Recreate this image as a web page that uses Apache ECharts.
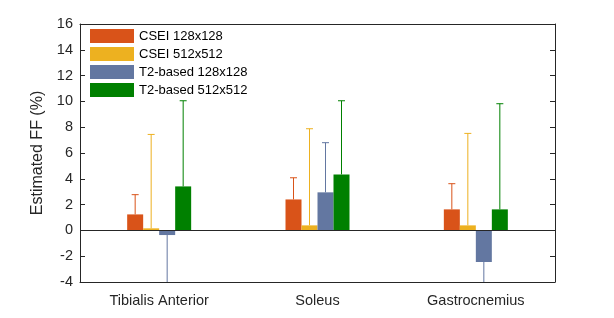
<!DOCTYPE html>
<html>
<head>
<meta charset="utf-8">
<script src="https://cdn.jsdelivr.net/npm/echarts@6/dist/echarts.min.js"></script>
<style>
html, body { margin: 0; padding: 0; background: #fff; }
#chart { width: 614px; height: 318px; }
</style>
</head>
<body>
<div id="chart"></div>
<script>
// data
const categories = ['Tibialis Anterior', 'Soleus', 'Gastrocnemius'];
const seriesNames = ['CSEI 128x128', 'CSEI 512x512', 'T2-based 128x128', 'T2-based 512x512'];
const cseiLow = [1.24, 2.40, 1.63];
const cseiHigh = [0.16, 0.39, 0.39];
const t2Low = [-0.36, 2.95, -2.45];
const t2High = [3.41, 4.34, 1.63];
// one-sided error (SD) per series, drawn away from zero
const cseiLowErr = [1.53, 1.68, 1.99];
const cseiHighErr = [7.28, 7.49, 7.13];
const t2LowErr = [4.5, 3.85, 2.5];
const t2HighErr = [6.64, 5.71, 8.19];
const yTicks = [-4, 16, 2];

const colors = ['#D95319', '#EDB120', '#6377A1', '#008000'];
const values = [cseiLow, cseiHigh, t2Low, t2High];
const errors = [cseiLowErr, cseiHighErr, t2LowErr, t2HighErr];
const barW = 16;
const axisColor = '#262626';

const chart = echarts.init(document.getElementById('chart'));

const barSeries = values.map((v, i) => ({
  name: seriesNames[i],
  type: 'bar',
  data: v,
  barWidth: barW,
  barGap: '0%',
  itemStyle: { color: colors[i] },
  z: 2,
  markLine: i === 0 ? {
    silent: true,
    symbol: 'none',
    label: { show: false },
    lineStyle: { color: axisColor, width: 1, type: 'solid' },
    data: [{ yAxis: 0 }]
  } : undefined
}));

const errSeries = values.map((v, i) => ({
  type: 'custom',
  name: 'err' + i,
  clip: true,
  z: 3,
  data: v.map((val, j) => [j, val, errors[i][j]]),
  renderItem: function (params, api) {
    const j = api.value(0);
    const val = api.value(1);
    const e = api.value(2);
    const end = val >= 0 ? val + e : val - e;
    const off = (i - 1.5) * barW;
    const p0 = api.coord([j, val]);
    const p1 = api.coord([j, end]);
    const x = p0[0] + off;
    const style = { stroke: colors[i], lineWidth: 1, fill: null };
    return {
      type: 'group',
      children: [
        { type: 'line', shape: { x1: x, y1: p0[1], x2: x, y2: p1[1] }, style: style },
        { type: 'line', shape: { x1: x - 3.5, y1: p1[1], x2: x + 3.5, y2: p1[1] }, style: style }
      ]
    };
  }
}));

const option = {
  animation: false,
  textStyle: { fontFamily: 'Liberation Sans, Arial, sans-serif' },
  grid: { left: 80, right: 59, top: 24, bottom: 36 },
  legend: {
    data: seriesNames,
    orient: 'vertical',
    left: 85,
    top: 24,
    itemWidth: 44,
    itemHeight: 14,
    itemGap: 4,
    icon: 'rect',
    textStyle: { fontSize: 13, color: '#000' }
  },
  xAxis: [
    {
      type: 'category',
      data: categories,
      axisLine: { onZero: false, lineStyle: { color: axisColor } },
      axisTick: { inside: true, alignWithLabel: true, length: 5, lineStyle: { color: axisColor } },
      axisLabel: { fontSize: 14.5, color: axisColor, margin: 11 }
    },
    {
      type: 'category',
      data: categories,
      position: 'top',
      axisLine: { onZero: false, lineStyle: { color: axisColor } },
      axisTick: { inside: true, alignWithLabel: true, length: 5, lineStyle: { color: axisColor } },
      axisLabel: { show: false }
    }
  ],
  yAxis: [
    {
      type: 'value',
      min: yTicks[0], max: yTicks[1], interval: yTicks[2],
      name: 'Estimated FF (%)',
      nameLocation: 'middle',
      nameGap: 26,
      nameTextStyle: { fontSize: 16, color: axisColor },
      axisLine: { show: true, lineStyle: { color: axisColor } },
      axisTick: { show: true, inside: true, length: 5, lineStyle: { color: axisColor } },
      axisLabel: { fontSize: 14.5, color: axisColor, margin: 7 },
      splitLine: { show: false }
    },
    {
      type: 'value',
      position: 'right',
      min: yTicks[0], max: yTicks[1], interval: yTicks[2],
      axisLine: { show: true, lineStyle: { color: axisColor } },
      axisTick: { show: true, inside: true, length: 5, lineStyle: { color: axisColor } },
      axisLabel: { show: false },
      splitLine: { show: false }
    }
  ],
  series: barSeries.concat(errSeries)
};

chart.setOption(option);
</script>
</body>
</html>
